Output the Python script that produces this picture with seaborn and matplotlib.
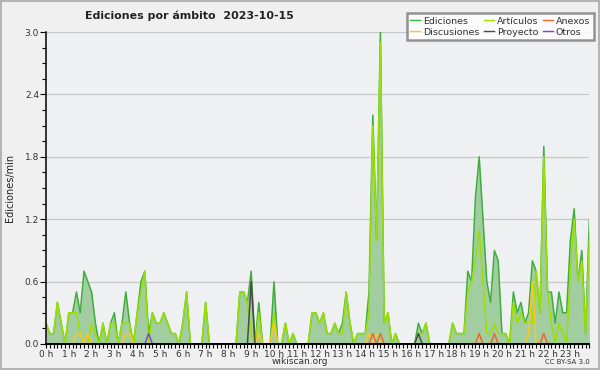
import numpy as np
import pandas as pd
import seaborn as sns
import matplotlib.pyplot as plt
from matplotlib.lines import Line2D
from matplotlib.ticker import MultipleLocator, FixedLocator, FormatStrFormatter

# Ediciones/min por tramos de 10 minutos (6 tramos por hora, 0 h .. 23 h)
ediciones = [
    0.2, 0.1, 0.1, 0.4, 0.2, 0.0,  0.3, 0.3, 0.5, 0.3, 0.7, 0.6,   # 0-1 h
    0.5, 0.2, 0.0, 0.2, 0.0, 0.2,  0.3, 0.0, 0.2, 0.5, 0.2, 0.0,   # 2-3 h
    0.3, 0.6, 0.7, 0.1, 0.3, 0.2,  0.2, 0.3, 0.2, 0.1, 0.1, 0.0,   # 4-5 h
    0.2, 0.5, 0.0, 0.0, 0.0, 0.0,  0.4, 0.0, 0.0, 0.0, 0.0, 0.0,   # 6-7 h
    0.0, 0.0, 0.0, 0.5, 0.5, 0.4,  0.7, 0.0, 0.4, 0.0, 0.0, 0.0,   # 8-9 h
    0.6, 0.0, 0.0, 0.2, 0.0, 0.1,  0.0, 0.0, 0.0, 0.0, 0.3, 0.3,   # 10-11 h
    0.2, 0.3, 0.1, 0.1, 0.2, 0.1,  0.2, 0.5, 0.2, 0.0, 0.1, 0.1,   # 12-13 h
    0.1, 0.5, 2.2, 1.0, 3.0, 0.2,  0.3, 0.0, 0.1, 0.0, 0.0, 0.0,   # 14-15 h
    0.0, 0.0, 0.2, 0.1, 0.2, 0.0,  0.0, 0.0, 0.0, 0.0, 0.0, 0.2,   # 16-17 h
    0.1, 0.1, 0.1, 0.7, 0.6, 1.4,  1.8, 1.2, 0.6, 0.4, 0.9, 0.8,   # 18-19 h
    0.1, 0.1, 0.0, 0.5, 0.3, 0.4,  0.2, 0.3, 0.8, 0.7, 0.3, 1.9,   # 20-21 h
    0.5, 0.5, 0.2, 0.5, 0.3, 0.3,  1.0, 1.3, 0.6, 0.9, 0.1, 1.2,   # 22-23 h
]
articulos = [
    0.2, 0.1, 0.1, 0.4, 0.2, 0.0,  0.3, 0.3, 0.3, 0.1, 0.0, 0.0,
    0.2, 0.1, 0.0, 0.2, 0.0, 0.2,  0.2, 0.0, 0.2, 0.2, 0.2, 0.0,
    0.3, 0.5, 0.7, 0.0, 0.3, 0.2,  0.2, 0.3, 0.2, 0.1, 0.1, 0.0,
    0.2, 0.5, 0.0, 0.0, 0.0, 0.0,  0.4, 0.0, 0.0, 0.0, 0.0, 0.0,
    0.0, 0.0, 0.0, 0.5, 0.5, 0.4,  0.1, 0.0, 0.3, 0.0, 0.0, 0.0,
    0.3, 0.0, 0.0, 0.2, 0.0, 0.1,  0.0, 0.0, 0.0, 0.0, 0.3, 0.3,
    0.2, 0.3, 0.1, 0.1, 0.2, 0.1,  0.1, 0.5, 0.2, 0.0, 0.1, 0.1,
    0.1, 0.3, 2.1, 1.0, 2.9, 0.2,  0.3, 0.0, 0.1, 0.0, 0.0, 0.0,
    0.0, 0.0, 0.1, 0.1, 0.2, 0.0,  0.0, 0.0, 0.0, 0.0, 0.0, 0.2,
    0.1, 0.1, 0.1, 0.5, 0.6, 0.8,  1.1, 0.6, 0.1, 0.1, 0.2, 0.1,
    0.1, 0.1, 0.0, 0.4, 0.2, 0.3,  0.2, 0.2, 0.2, 0.7, 0.3, 1.8,
    0.5, 0.2, 0.0, 0.2, 0.1, 0.0,  0.7, 1.2, 0.6, 0.8, 0.1, 1.0,
]
anexos = [
    0.0, 0.0, 0.0, 0.0, 0.0, 0.0,  0.0, 0.0, 0.0, 0.0, 0.0, 0.0,
    0.0, 0.0, 0.0, 0.0, 0.0, 0.0,  0.0, 0.0, 0.0, 0.0, 0.0, 0.0,
    0.0, 0.0, 0.0, 0.0, 0.0, 0.0,  0.0, 0.0, 0.0, 0.0, 0.0, 0.0,
    0.0, 0.0, 0.0, 0.0, 0.0, 0.0,  0.0, 0.0, 0.0, 0.0, 0.0, 0.0,
    0.0, 0.0, 0.0, 0.0, 0.0, 0.0,  0.0, 0.0, 0.0, 0.0, 0.0, 0.0,
    0.0, 0.0, 0.0, 0.0, 0.0, 0.0,  0.0, 0.0, 0.0, 0.0, 0.0, 0.0,
    0.0, 0.0, 0.0, 0.0, 0.0, 0.0,  0.0, 0.0, 0.0, 0.0, 0.0, 0.0,
    0.0, 0.0, 0.1, 0.0, 0.1, 0.0,  0.0, 0.0, 0.0, 0.0, 0.0, 0.0,
    0.0, 0.0, 0.0, 0.0, 0.0, 0.0,  0.0, 0.0, 0.0, 0.0, 0.0, 0.0,
    0.0, 0.0, 0.0, 0.0, 0.0, 0.0,  0.1, 0.0, 0.0, 0.0, 0.1, 0.0,
    0.0, 0.0, 0.0, 0.0, 0.0, 0.0,  0.0, 0.0, 0.0, 0.0, 0.0, 0.1,
    0.0, 0.0, 0.0, 0.0, 0.0, 0.0,  0.0, 0.0, 0.0, 0.0, 0.0, 0.0,
]
discusiones = [
    0.0, 0.0, 0.0, 0.0, 0.0, 0.0,  0.0, 0.0, 0.1, 0.1, 0.0, 0.1,
    0.0, 0.0, 0.0, 0.0, 0.0, 0.0,  0.0, 0.0, 0.0, 0.1, 0.1, 0.0,
    0.0, 0.0, 0.0, 0.0, 0.0, 0.0,  0.0, 0.0, 0.0, 0.0, 0.0, 0.0,
    0.0, 0.0, 0.0, 0.0, 0.0, 0.0,  0.0, 0.0, 0.0, 0.0, 0.0, 0.0,
    0.0, 0.0, 0.0, 0.0, 0.0, 0.0,  0.0, 0.0, 0.1, 0.0, 0.0, 0.0,
    0.2, 0.0, 0.0, 0.0, 0.0, 0.0,  0.0, 0.0, 0.0, 0.0, 0.0, 0.0,
    0.0, 0.0, 0.0, 0.0, 0.0, 0.0,  0.0, 0.0, 0.0, 0.0, 0.0, 0.0,
    0.0, 0.1, 0.0, 0.1, 0.0, 0.0,  0.0, 0.0, 0.0, 0.0, 0.0, 0.0,
    0.0, 0.0, 0.0, 0.0, 0.0, 0.0,  0.0, 0.0, 0.0, 0.0, 0.0, 0.0,
    0.0, 0.0, 0.0, 0.0, 0.0, 0.0,  0.0, 0.0, 0.0, 0.0, 0.0, 0.0,
    0.0, 0.0, 0.0, 0.0, 0.0, 0.0,  0.0, 0.1, 0.6, 0.0, 0.0, 0.0,
    0.0, 0.0, 0.0, 0.0, 0.0, 0.0,  0.0, 0.0, 0.0, 0.0, 0.0, 0.0,
]
proyecto = [
    0.0, 0.0, 0.0, 0.0, 0.0, 0.0,  0.0, 0.0, 0.0, 0.0, 0.0, 0.0,
    0.0, 0.0, 0.0, 0.0, 0.0, 0.0,  0.0, 0.0, 0.0, 0.0, 0.0, 0.0,
    0.0, 0.0, 0.0, 0.0, 0.0, 0.0,  0.0, 0.0, 0.0, 0.0, 0.0, 0.0,
    0.0, 0.0, 0.0, 0.0, 0.0, 0.0,  0.0, 0.0, 0.0, 0.0, 0.0, 0.0,
    0.0, 0.0, 0.0, 0.0, 0.0, 0.0,  0.6, 0.0, 0.0, 0.0, 0.0, 0.0,
    0.0, 0.0, 0.0, 0.0, 0.0, 0.0,  0.0, 0.0, 0.0, 0.0, 0.0, 0.0,
    0.0, 0.0, 0.0, 0.0, 0.0, 0.0,  0.0, 0.0, 0.0, 0.0, 0.0, 0.0,
    0.0, 0.0, 0.0, 0.0, 0.0, 0.0,  0.0, 0.0, 0.0, 0.0, 0.0, 0.0,
    0.0, 0.0, 0.1, 0.0, 0.0, 0.0,  0.0, 0.0, 0.0, 0.0, 0.0, 0.0,
    0.0, 0.0, 0.0, 0.0, 0.0, 0.0,  0.0, 0.0, 0.0, 0.0, 0.0, 0.0,
    0.0, 0.0, 0.0, 0.0, 0.0, 0.0,  0.0, 0.0, 0.0, 0.0, 0.0, 0.0,
    0.0, 0.0, 0.0, 0.0, 0.0, 0.0,  0.0, 0.0, 0.0, 0.0, 0.0, 0.0,
]
otros = [
    0.0, 0.0, 0.0, 0.0, 0.0, 0.0,  0.0, 0.0, 0.0, 0.0, 0.0, 0.0,
    0.0, 0.0, 0.0, 0.0, 0.0, 0.0,  0.0, 0.0, 0.0, 0.0, 0.0, 0.0,
    0.0, 0.0, 0.0, 0.1, 0.0, 0.0,  0.0, 0.0, 0.0, 0.0, 0.0, 0.0,
    0.0, 0.0, 0.0, 0.0, 0.0, 0.0,  0.0, 0.0, 0.0, 0.0, 0.0, 0.0,
    0.0, 0.0, 0.0, 0.0, 0.0, 0.0,  0.0, 0.0, 0.0, 0.0, 0.0, 0.0,
    0.0, 0.0, 0.0, 0.0, 0.0, 0.0,  0.0, 0.0, 0.0, 0.0, 0.0, 0.0,
    0.0, 0.0, 0.0, 0.0, 0.0, 0.0,  0.0, 0.0, 0.0, 0.0, 0.0, 0.0,
    0.0, 0.0, 0.0, 0.0, 0.0, 0.0,  0.0, 0.0, 0.0, 0.0, 0.0, 0.0,
    0.0, 0.0, 0.0, 0.0, 0.0, 0.0,  0.0, 0.0, 0.0, 0.0, 0.0, 0.0,
    0.0, 0.0, 0.0, 0.0, 0.0, 0.0,  0.0, 0.0, 0.0, 0.0, 0.0, 0.0,
    0.0, 0.0, 0.0, 0.0, 0.0, 0.0,  0.0, 0.0, 0.0, 0.0, 0.0, 0.0,
    0.0, 0.0, 0.0, 0.0, 0.0, 0.0,  0.0, 0.0, 0.0, 0.0, 0.0, 0.0,
]
horas = [f"{h} h" for h in range(24)]

series = {
    "Ediciones": ediciones,
    "Artículos": articulos,
    "Discusiones": discusiones,
    "Anexos": anexos,
    "Proyecto": proyecto,
    "Otros": otros,
}
colores = {
    "Ediciones": "#3fae3f",
    "Artículos": "#9be000",
    "Discusiones": "#ffc61e",
    "Anexos": "#f2662a",
    "Proyecto": "#4a4a4a",
    "Otros": "#8a3cf0",
}

tramos = np.arange(len(ediciones))
df = pd.concat(
    [pd.DataFrame({"tramo": tramos, "valor": v, "ambito": k}) for k, v in series.items()],
    ignore_index=True,
)

fig, ax = plt.subplots(figsize=(6, 3.7), dpi=100)
fig.patch.set_facecolor("#f0f0f0")
fig.patch.set_edgecolor("#b4b4b4")
fig.patch.set_linewidth(1.5)
ax.set_facecolor("#eef0f2")
fig.subplots_adjust(left=0.0767, right=0.9823, bottom=0.0703, top=0.9135)

# area bajo el total
ax.fill_between(tramos, ediciones, color="#a2cda0", lw=0, zorder=1)

sns.lineplot(data=df, x="tramo", y="valor", hue="ambito", hue_order=list(series.keys()),
             palette=colores, estimator=None, linewidth=1.1, legend=False, ax=ax, zorder=2)

ax.set_xlim(0, len(ediciones) - 1)
ax.set_ylim(0, 3.0)
ax.set_xlabel("")
ax.set_ylabel("")

ax.yaxis.set_major_locator(MultipleLocator(0.6))
ax.yaxis.set_minor_locator(MultipleLocator(0.15))
ax.yaxis.set_major_formatter(FormatStrFormatter("%.1f"))
ax.xaxis.set_major_locator(FixedLocator(np.arange(0, 144, 6)))
ax.xaxis.set_minor_locator(MultipleLocator(1))
ax.set_xticklabels(horas)

ax.yaxis.grid(True, color="#c8c8c8", lw=0.9)
ax.xaxis.grid(False)
ax.set_axisbelow(True)

for s in ["top", "right"]:
    ax.spines[s].set_visible(False)
ax.spines["left"].set_linewidth(1.1)
ax.spines["bottom"].set_linewidth(1.4)
ax.spines["left"].set_zorder(5)
ax.spines["bottom"].set_zorder(5)

ax.tick_params(axis="both", which="both", direction="out", color="black", width=0.8,
               labelsize=6.5, pad=1, labelcolor="#333333")
ax.tick_params(axis="y", which="major", length=4)
ax.tick_params(axis="y", which="minor", length=3)
ax.tick_params(axis="x", which="both", length=3)

orden = ["Ediciones", "Discusiones", "Artículos", "Proyecto", "Anexos", "Otros"]
handles = [Line2D([], [], color=colores[k], lw=1.0) for k in orden]
leg = ax.legend(handles, orden, ncol=3, loc="upper right", bbox_to_anchor=(594 / 600, 1 - 13 / 370),
                bbox_transform=fig.transFigure, fontsize=6.8, frameon=True, fancybox=False,
                shadow=False, handlelength=1.0, handletextpad=0.35, columnspacing=0.5,
                labelspacing=0.2, borderpad=0.4, borderaxespad=0)
leg.get_frame().set_edgecolor("#7a7a7a")
leg.get_frame().set_linewidth(1.8)
leg.get_frame().set_facecolor("white")
for t in leg.get_texts():
    t.set_color("#333333")

fig.text(85 / 600, 1 - 16 / 370, "Ediciones por ámbito  2023-10-15", ha="left", va="center",
         fontsize=7.9, fontweight="bold", color="#222222")
fig.text(10 / 600, 1 - 188 / 370, "Ediciones/min", rotation=90, ha="center", va="center",
         fontsize=7, color="#222222")
fig.text(0.5, 1 - 362 / 370, "wikiscan.org", ha="center", va="center", fontsize=6.5, color="#333333")
fig.text(590 / 600, 1 - 362 / 370, "CC BY-SA 3.0", ha="right", va="center", fontsize=5, color="#333333")

fig.savefig("out.png", dpi=100, facecolor=fig.get_facecolor(), edgecolor=fig.get_edgecolor())
